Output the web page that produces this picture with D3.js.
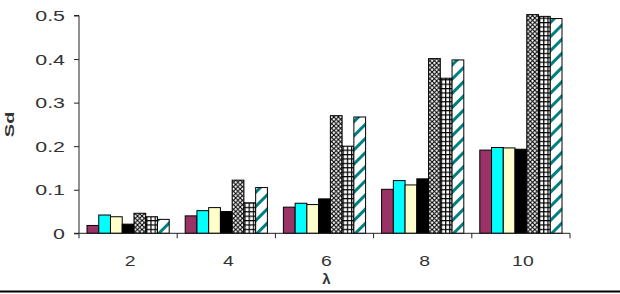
<!DOCTYPE html>
<html>
<head>
<meta charset="utf-8">
<script src="https://cdn.jsdelivr.net/npm/d3@7"></script>
<style>
  body { margin: 0; background: #fff; }
  svg { display: block; font-family: "Liberation Sans", Arial, sans-serif; }
  .axis path, .axis line { stroke: #222; }
  .axis text { fill: #333; }
  .bar { stroke: #000; stroke-width: 1; }
</style>
</head>
<body>
<svg width="620" height="294"></svg>
<script>
// lambda values on the x axis
var categories = ["2", "4", "6", "8", "10"];

// Sd for each of the seven series, one value per lambda
var s1 = [0.018, 0.040, 0.060, 0.101, 0.191];
var s2 = [0.042, 0.052, 0.069, 0.121, 0.197];
var s3 = [0.038, 0.059, 0.066, 0.111, 0.196];
var s4 = [0.021, 0.050, 0.079, 0.125, 0.193];
var s5 = [0.046, 0.122, 0.270, 0.401, 0.502];
var s6 = [0.038, 0.070, 0.200, 0.356, 0.498];
var s7 = [0.032, 0.105, 0.267, 0.398, 0.493];
var series = [s1, s2, s3, s4, s5, s6, s7];

var yTicks = [0, 0.1, 0.2, 0.3, 0.4, 0.5];

var fills = ["#993366", "#00ffff", "#ffffcc", "#000000", "url(#pDiamond)", "url(#pGrid)", "url(#pStripe)"];

var svg = d3.select("svg");
// plot edges (not "top": window.top is read-only)
var mLeft = 79, mRight = 570, mTop = 15.5, mBottom = 233.3;

// patterns
var defs = svg.append("defs");
var p5 = defs.append("pattern").attr("id", "pDiamond").attr("patternUnits", "userSpaceOnUse")
  .attr("width", 4.5).attr("height", 4.5);
p5.append("rect").attr("width", 4.5).attr("height", 4.5).attr("fill", "#fff");
p5.append("path").attr("d", "M0,0L4.5,4.5M4.5,0L0,4.5")
  .attr("stroke", "#000").attr("stroke-width", 1.1);

var p6 = defs.append("pattern").attr("id", "pGrid").attr("patternUnits", "userSpaceOnUse")
  .attr("width", 4.2).attr("height", 4.4);
p6.append("rect").attr("width", 4.2).attr("height", 4.4).attr("fill", "#000");
p6.append("rect").attr("x", 1.2).attr("y", 1.2).attr("width", 3).attr("height", 3.2).attr("fill", "#fff");

var p7 = defs.append("pattern").attr("id", "pStripe").attr("patternUnits", "userSpaceOnUse")
  .attr("width", 10).attr("height", 10).attr("patternTransform", "rotate(45)");
p7.append("rect").attr("width", 10).attr("height", 10).attr("fill", "#fff");
p7.append("rect").attr("width", 3).attr("height", 10).attr("fill", "#008080");

var x0 = d3.scaleBand().domain(categories).range([mLeft, mRight]).padding(0);
var x1 = d3.scaleBand().domain(d3.range(series.length)).range([8, x0.bandwidth() - 8]).padding(0);
var y = d3.scaleLinear().domain([0, 0.5]).range([mBottom, mTop]);

// bars
var groups = svg.append("g").selectAll("g")
  .data(categories)
  .enter().append("g")
  .attr("transform", function(d) { return "translate(" + x0(d) + ",0)"; });

groups.selectAll("rect")
  .data(function(d, i) { return series.map(function(s, j) { return { k: j, v: s[i] }; }); })
  .enter().append("rect")
  .attr("class", "bar")
  .attr("x", function(d) { return x1(d.k); })
  .attr("width", x1.bandwidth())
  .attr("y", function(d) { return y(d.v); })
  .attr("height", function(d) { return mBottom - y(d.v); })
  .attr("fill", function(d) { return fills[d.k]; });

// text is drawn wider than the font, as in the picture
function stretch(sel, k) {
  sel.each(function() {
    d3.select(this).attr("textLength", this.getComputedTextLength() * k)
      .attr("lengthAdjust", "spacingAndGlyphs");
  });
}

// y axis
var yAxis = svg.append("g").attr("class", "axis")
  .attr("transform", "translate(" + mLeft + ",0)")
  .call(d3.axisLeft(y).tickValues(yTicks).tickSize(5).tickPadding(9)
    .tickFormat(function(d) { return d === 0 ? "0" : d3.format(".1f")(d); }));
yAxis.select(".domain").attr("d", "M-5," + mTop + "H0V" + mBottom + "H-5");
yAxis.selectAll("text").style("font-size", "15.5px").call(stretch, 1.38);

// x axis: labels in band centres, ticks on band edges
var xAxis = svg.append("g").attr("class", "axis")
  .attr("transform", "translate(0," + mBottom + ")")
  .call(d3.axisBottom(x0).tickSize(0).tickPadding(22));
xAxis.select(".domain").attr("d", "M" + mLeft + ",0H" + mRight);
xAxis.selectAll(".tick text").attr("x", 2).style("font-size", "15.5px").call(stretch, 1.25);
xAxis.selectAll(".edge")
  .data(categories.map(function(c) { return x0(c); }).concat([mRight]))
  .enter().append("line")
  .attr("class", "edge")
  .attr("x1", function(d) { return d; }).attr("x2", function(d) { return d; })
  .attr("y1", 0).attr("y2", 5);

// axis titles
svg.append("text")
  .attr("transform", "translate(13.5," + ((mTop + mBottom) / 2) + ") rotate(-90)")
  .attr("text-anchor", "middle")
  .style("font-size", "12.5px").style("font-weight", "bold").style("fill", "#333")
  .text("Sd").call(stretch, 1.6);

svg.append("text")
  .attr("x", (mLeft + mRight) / 2 + 2).attr("y", 284)
  .attr("text-anchor", "middle")
  .style("font-size", "15px").style("font-weight", "bold").style("fill", "#333")
  .text("λ");

// rule along the bottom edge
svg.append("line")
  .attr("x1", 0).attr("x2", 620).attr("y1", 291.5).attr("y2", 291.5)
  .attr("stroke", "#000").attr("stroke-width", 2);
</script>
</body>
</html>
